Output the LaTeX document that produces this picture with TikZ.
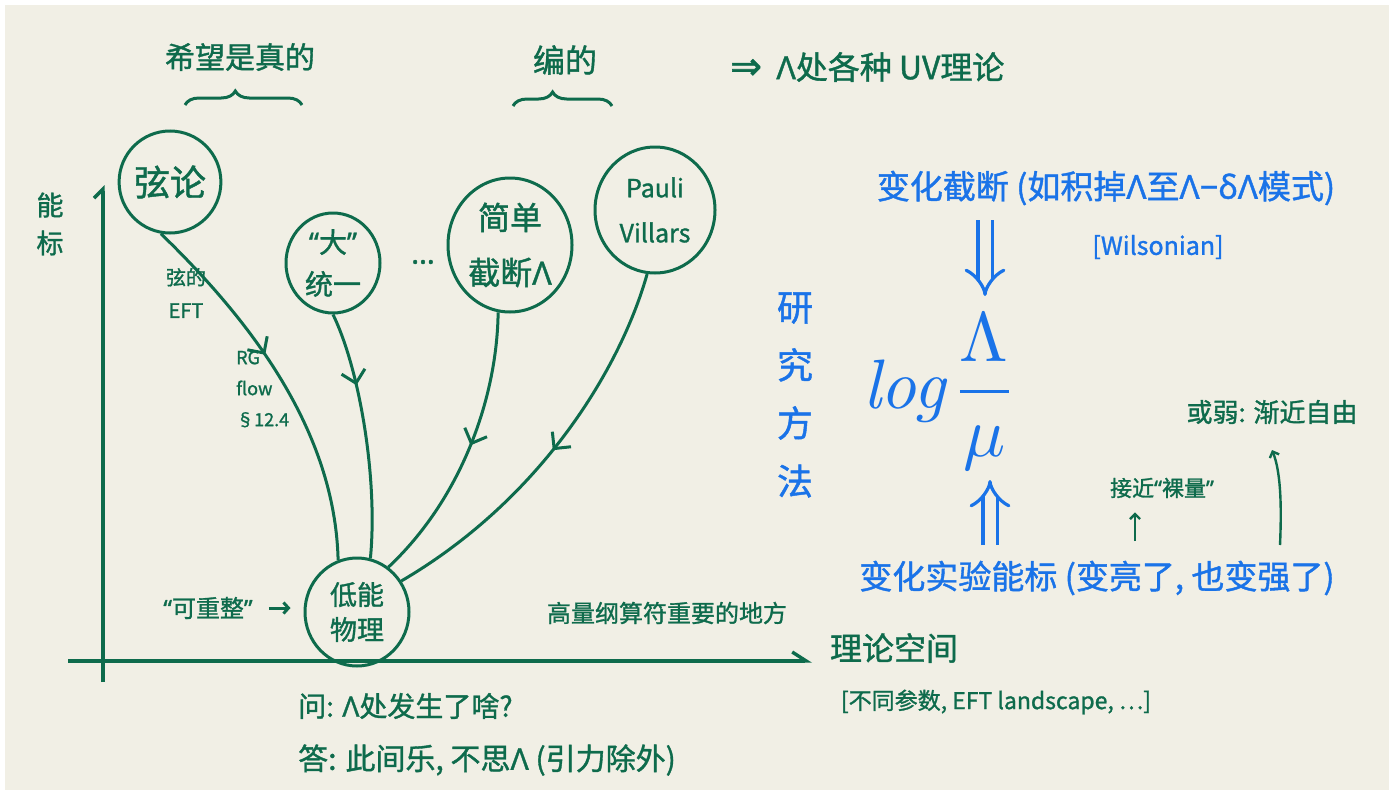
\documentclass[tikz,border=0pt]{standalone}
\usepackage[no-math]{fontspec}
\setmainfont{Noto Sans CJK SC}[FakeBold=1.2]
\newfontfamily\lat{Noto Sans}[FakeBold=1.2]
\newfontfamily\djv{DejaVu Sans}[FakeBold=1.5]
\usetikzlibrary{arrows.meta,shapes.geometric,decorations.markings,decorations.pathreplacing}
\definecolor{ink}{HTML}{0E6B4C}
\definecolor{pen}{HTML}{1A73E8}
\definecolor{paper}{HTML}{F1EFE5}
\newcommand\fsz[2]{\fontsize{#1}{#2}\selectfont}
\newcommand\Lam{{\lat Λ}}
\newcommand\qq[1]{{\lat “}#1{\lat ”}}
\tikzset{
  bubble/.style={ellipse, draw=ink, line width=3pt, inner sep=0pt, text=ink, align=center},
  gtext/.style={text=ink, inner sep=0pt, align=center},
  btext/.style={text=pen, inner sep=0pt, align=center},
  flowline/.style={draw=ink, line width=3pt, postaction=decorate,
    decoration={markings, mark=at position #1 with {\arrow{Straight Barb[length=12pt,width=24pt,line width=3pt]}}}},
  axisline/.style={draw=ink, line width=3.4pt},
  bracket/.style={draw=ink, line width=3pt, decorate},
  gthin/.style={draw=ink, line width=2.4pt, -{Straight Barb[length=5pt,width=10pt]}},
  dbl/.style={draw=pen, line width=3.2pt, double=paper, double distance=11pt, -{Implies}}
}
\begin{document}
\begin{tikzpicture}[x=1pt,y=-1pt]
\fill[white] (0,0) rectangle (1394,795);
\fill[paper] (5,5) rectangle (1389,790);
\useasboundingbox (0,0) rectangle (1394,795);

% axes
\draw[axisline, -{Straight Barb[harpoon,length=9pt,width=18pt]}] (103,682) -- (103,185);
\draw[axisline, -{Straight Barb[harpoon,length=14pt,width=18pt]}] (68,661) -- (812,661);
\node[gtext, font=\fsz{27}{38}] (nb) at (50,224) {能\\标};
\node[gtext, font=\fsz{32}{32}] (space) at (894,648) {理论空间};
\node[gtext, font=\fsz{23}{23}] (spacesub) at (996,702) {[不同参数, EFT landscape, …]};

% bubbles
\node[bubble, minimum width=98pt, minimum height=102pt, font=\fsz{36}{40}] (xian) at (170,182) {弦论};
\node[bubble, minimum width=94pt, minimum height=100pt, font=\fsz{28}{42}] (dt) at (333,263) {\qq{大}\\统一};
\node[gtext, font=\fsz{30}{30}] (dots) at (423,262) {{\lat …}};
\node[bubble, minimum width=124pt, minimum height=134pt, font=\fsz{32}{55}] (jd) at (510,245) {简单\\截断\Lam};
\node[bubble, minimum width=120pt, minimum height=126pt, font=\fsz{25}{45}] (pv) at (655,210) {Pauli\\Villars};
\node[bubble, minimum width=104pt, minimum height=108pt, font=\fsz{27}{35}] (low) at (357,612) {低能\\物理};

% flows
\draw[flowline=0.42] (xian.260) .. controls (250,320) and (335,430) .. (low.110);
\draw[flowline=0.3] (dt.270) .. controls (360,370) and (378,480) .. (low.76);
\draw[flowline=0.48] (jd.260) .. controls (497,400) and (460,500) .. (low.55);
\draw[flowline=0.5] (pv.263) .. controls (620,370) and (540,500) .. (low.35);

\node[gtext, font=\fsz{20}{33}] (xeft) at (186,293) {弦的\\EFT};
\node[gtext, font=\fsz{18}{31}, align=left, anchor=west] (rg) at (236,389) {RG\\flow\\§12.4};

% braces and top labels
\draw[bracket, decoration={brace, amplitude=14pt, aspect=0.43}] (185,105) -- (302,105);
\draw[bracket, decoration={brace, amplitude=14pt, aspect=0.4}] (513,106) -- (612,106);
\node[gtext, font=\fsz{30}{30}] (hope) at (240,57) {希望是真的};
\node[gtext, font=\fsz{32}{32}] (made) at (565,60) {编的};
\node[gtext, font=\fsz{32}{32}, anchor=west] (uv) at (730,67) {{\djv\fsz{38}{38}⇒}\ \ \Lam 处各种 UV理论};

% renormalizable
\node[gtext, font=\fsz{24}{24}] (kcz) at (208,608) {\qq{可重整}};
\draw[draw=ink, line width=3pt, -{Straight Barb[length=5pt,width=11pt]}, shorten <=16pt, shorten >=13pt] (kcz.east) -- (kcz.east -| low.west);
\node[gtext, font=\fsz{24}{24}] (hdo) at (667,613) {高量纲算符重要的地方};

% Q and A
\node[gtext, font=\fsz{28}{28}, anchor=west] (ask) at (298,706) {问: \Lam 处发生了啥?};
\node[gtext, font=\fsz{30}{30}, anchor=west] (ans) at (298,760) {答: 此间乐, 不思\Lam\ (引力除外)};

% right side (blue)
\node[btext, font=\fsz{33}{33}] (cut) at (1106,188) {变化截断 (如积掉\Lam 至\Lam{\lat −δ}\Lam 模式)};
\node[btext, font=\fsz{25}{25}] (wil) at (1158,247) {[Wilsonian]};
\node[btext, font=\fsz{36}{58}] (method) at (795,395) {研\\究\\方\\法};
\node[btext, scale=7, font=\fsz{10}{12}] (lg) at (940,392) {$\mathit{log}\displaystyle\frac{\Lambda}{\mathrm{\mu}}$};
\node[btext, font=\fsz{33}{33}] (exp) at (1097,578) {变化实验能标 (变亮了, 也变强了)};
\coordinate (d1) at (985,220);
\coordinate (d2) at (985,296);
\draw[dbl] (d1) -- (d2);
\coordinate (u1) at (990,545);
\coordinate (u2) at (990,480);
\draw[dbl] (u1) -- (u2);

% green annotations
\node[gtext, font=\fsz{22}{22}] (bare) at (1162,488) {接近\qq{裸量}};
\node[gtext, font=\fsz{26}{26}] (af) at (1272,412) {或弱: 渐近自由};
\coordinate (a1) at (1135,541);
\draw[gthin, shorten >=14pt] (a1) -- (a1 |- bare.south);
\coordinate (a2) at (1280,545);
\coordinate (a2e) at (1272,450);
\draw[gthin] (a2) .. controls (1282,500) and (1280,470) .. (a2e);
\end{tikzpicture}
\end{document}
